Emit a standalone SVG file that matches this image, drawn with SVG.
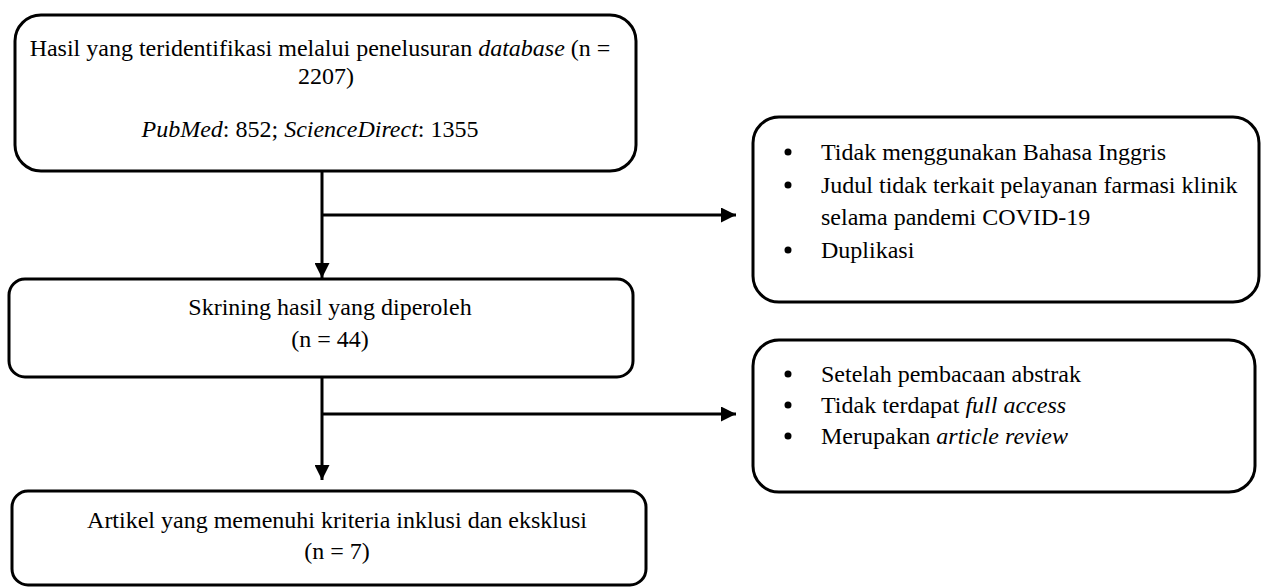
<svg xmlns="http://www.w3.org/2000/svg" width="1262" height="588" viewBox="0 0 1262 588">
<style>
.box{fill:#fff;stroke:#000;stroke-width:3}
.t{font-family:"Liberation Serif","Times New Roman",serif;font-size:24px;fill:#000}
.c{text-anchor:middle}
.i{font-style:italic}
.ln{stroke:#000;stroke-width:3;fill:none}
</style>
<defs>
<marker id="ah" viewBox="0 0 10 10" refX="10" refY="5" markerWidth="15" markerHeight="15" markerUnits="userSpaceOnUse" orient="auto">
<path d="M0,0 L10,5 L0,10 z" fill="#000"/>
</marker>
</defs>
<rect width="1262" height="588" fill="#fff"/>
<g id="connectors">
<line class="ln" x1="322" y1="171" x2="322" y2="278" marker-end="url(#ah)"/>
<line class="ln" x1="322" y1="215" x2="736" y2="215" marker-end="url(#ah)"/>
<line class="ln" x1="322" y1="377" x2="322" y2="480" marker-end="url(#ah)"/>
<line class="ln" x1="322" y1="414" x2="736" y2="414" marker-end="url(#ah)"/>
</g>
<g id="node-identified">
<rect class="box" x="15" y="15" width="621" height="156" rx="26"/>
<text class="t c" x="320" y="56">Hasil yang teridentifikasi melalui penelusuran <tspan class="i">database</tspan> (n =</text>
<text class="t c" x="326" y="84">2207)</text>
<text class="t c" x="310" y="137"><tspan class="i">PubMed</tspan>: 852; <tspan class="i">ScienceDirect</tspan>: 1355</text>
</g>
<g id="node-excluded1">
<rect class="box" x="753" y="117" width="506" height="185" rx="26"/>
<circle cx="788" cy="152" r="3.5"/>
<text class="t" x="821" y="160">Tidak menggunakan Bahasa Inggris</text>
<circle cx="788" cy="185" r="3.5"/>
<text class="t" x="821" y="193">Judul tidak terkait pelayanan farmasi klinik</text>
<text class="t" x="821" y="225">selama pandemi COVID-19</text>
<circle cx="788" cy="250" r="3.5"/>
<text class="t" x="821" y="258">Duplikasi</text>
</g>
<g id="node-screening">
<rect class="box" x="9" y="279" width="624" height="98" rx="16"/>
<text class="t c" x="330" y="315">Skrining hasil yang diperoleh</text>
<text class="t c" x="330" y="347">(n = 44)</text>
</g>
<g id="node-excluded2">
<rect class="box" x="753" y="340" width="502" height="152" rx="26"/>
<circle cx="788" cy="374" r="3.5"/>
<text class="t" x="821" y="382">Setelah pembacaan abstrak</text>
<circle cx="788" cy="405" r="3.5"/>
<text class="t" x="821" y="413">Tidak terdapat <tspan class="i">full access</tspan></text>
<circle cx="788" cy="436" r="3.5"/>
<text class="t" x="821" y="444">Merupakan <tspan class="i">article review</tspan></text>
</g>
<g id="node-included">
<rect class="box" x="12" y="491" width="634" height="94" rx="16"/>
<text class="t c" x="337" y="528">Artikel yang memenuhi kriteria inklusi dan eksklusi</text>
<text class="t c" x="337" y="559">(n = 7)</text>
</g>
</svg>
